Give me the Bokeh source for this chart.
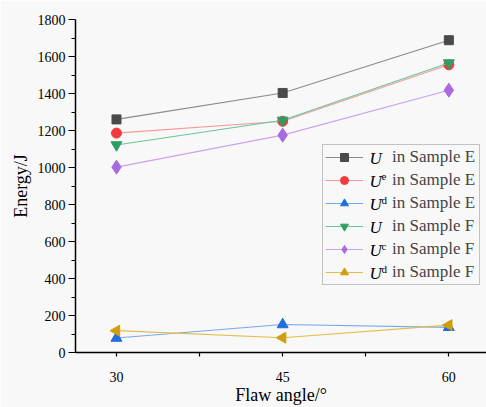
import math
from bokeh.plotting import figure
from bokeh.models import Range1d, FixedTicker, Legend, LegendItem, Label, ColumnDataSource
from bokeh.embed import file_html
from bokeh.resources import INLINE

# ---- data ----
angles = [30, 45, 60]
u_e = [1260, 1403, 1688]
ue_e = [1186, 1250, 1555]
ud_e = [78, 151, 136]
u_f = [1122, 1255, 1565]
uc_f = [1002, 1175, 1418]
ud_f = [118, 80, 148]

x_ticks = [30, 45, 60]
x_minor = [37.5, 52.5]
y_ticks = list(range(0, 1801, 200))
y_minor = list(range(100, 1800, 200))

sup_labels = ["", "e", "d", "", "c", "d"]
series_values = [u_e, ue_e, ud_e, u_f, uc_f, ud_f]
legend_suffix = ["in Sample E", "in Sample E", "in Sample E",
                 "in Sample F", "in Sample F", "in Sample F"]
x_title = "Flaw angle/°"
y_title = "Energy/J"

styles = [
    dict(marker="square", color="#4a4a4a", line="#8a8a8a", size=9, angle=0),
    dict(marker="circle", color="#f43a3a", line="#f59a9a", size=10, angle=0),
    dict(marker="triangle", color="#1f6fdc", line="#78a8ec", size=11, angle=0),
    dict(marker="inverted_triangle", color="#2e9e62", line="#6cc49a", size=11, angle=0),
    dict(marker="diamond", color="#a86ae0", line="#c9a3ef", size=14, angle=0),
    dict(marker="triangle", color="#cf9e0a", line="#e2bd4a", size=11, angle=90),
]

BG = "#f8f8f8"
FONT = "Liberation Serif"

p = figure(width=486, height=407, output_backend="svg", toolbar_location=None,
           x_range=Range1d(26.3, 63.4), y_range=Range1d(0, 1800),
           min_border_left=75, min_border_right=0, min_border_top=19, min_border_bottom=55)
p.background_fill_color = BG
p.border_fill_color = BG
p.outline_line_color = None
p.grid.visible = False

items = []
for vals, st, suf in zip(series_values, styles, legend_suffix):
    src = ColumnDataSource(dict(x=angles, y=vals))
    lr = p.line("x", "y", source=src, line_color=st["line"], line_width=1.1)
    sr = p.scatter("x", "y", source=src, marker=st["marker"], size=st["size"],
                   fill_color=st["color"], line_color=st["color"],
                   angle=st["angle"], angle_units="deg")
    items.append(LegendItem(label=suf, renderers=[lr, sr]))

# axes
xa = p.xaxis[0]
xa.ticker = FixedTicker(ticks=x_ticks, minor_ticks=x_minor)
xa.axis_label = x_title
ya = p.yaxis[0]
ya.ticker = FixedTicker(ticks=y_ticks, minor_ticks=y_minor)
ya.axis_label = y_title
for ax in (xa, ya):
    ax.axis_line_color = "black"
    ax.axis_line_width = 1.5
    ax.major_tick_line_color = "black"
    ax.minor_tick_line_color = "black"
    ax.major_tick_line_width = 1.2
    ax.minor_tick_line_width = 1.2
    ax.major_tick_in = 0
    ax.minor_tick_in = 0
    ax.major_label_text_font = FONT
    ax.major_label_text_font_size = "14px"
    ax.major_label_text_color = "black"
    ax.axis_label_text_font = FONT
    ax.axis_label_text_font_size = "18px"
    ax.axis_label_text_font_style = "normal"
    ax.axis_label_text_color = "black"
xa.major_tick_out = 4
xa.minor_tick_out = 4
xa.major_label_standoff = 15
xa.axis_label_standoff = 0
ya.major_tick_out = 7
ya.minor_tick_out = 4
ya.major_label_standoff = 3
ya.axis_label_standoff = 4

legend = Legend(items=items, location=(247, 67), margin=0, padding=2,
                glyph_width=38, glyph_height=20, label_height=20, spacing=3,
                label_standoff=29, label_width=85,
                label_text_font=FONT, label_text_font_size="17px",
                border_line_color="#8c8c8c", border_line_width=1,
                background_fill_color=BG, background_fill_alpha=0.0)
p.add_layout(legend)

# italic symbols with superscripts for legend labels
frame_bottom = 352
for i, sup in enumerate(sup_labels):
    cy = 158 + 23 * i
    p.add_layout(Label(x=294, y=frame_bottom - cy, x_units="screen", y_units="screen",
                       text="U", text_font=FONT, text_font_size="17px",
                       text_font_style="italic", text_baseline="middle", text_align="left",
                       text_color="black"))
    if sup:
        p.add_layout(Label(x=306, y=frame_bottom - cy + 5, x_units="screen", y_units="screen",
                           text=sup, text_font=FONT, text_font_size="11px",
                           text_baseline="middle", text_align="left", text_color="black"))

open("out.html", "w").write(file_html(p, INLINE))
